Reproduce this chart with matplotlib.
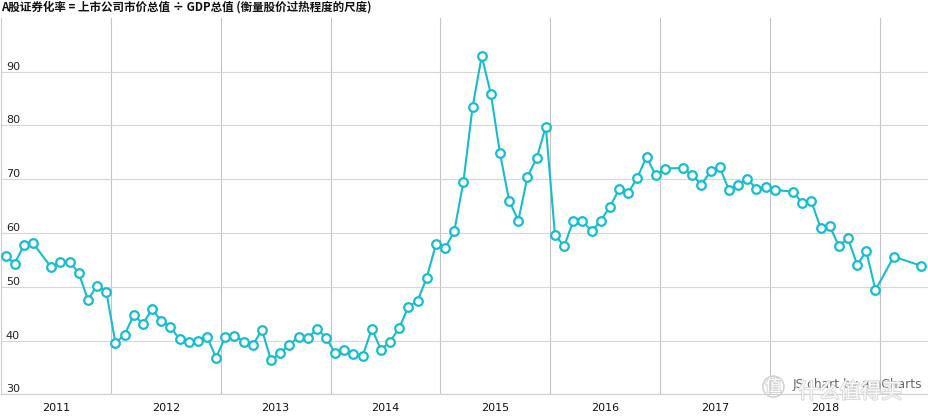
import matplotlib
matplotlib.use("Agg")
import matplotlib.pyplot as plt
import matplotlib.patheffects as pe
from matplotlib.ticker import FixedLocator, NullFormatter

# monthly values (some months are missing in the source)
months = [
    "2011-01", "2011-02", "2011-03", "2011-04", "2011-06", "2011-07", "2011-08", "2011-09", "2011-10", "2011-11", "2011-12",
    "2012-01", "2012-02", "2012-03", "2012-04", "2012-05", "2012-06", "2012-07", "2012-08", "2012-09", "2012-10", "2012-11", "2012-12",
    "2013-01", "2013-02", "2013-03", "2013-04", "2013-05", "2013-06", "2013-07", "2013-08", "2013-09", "2013-10", "2013-11", "2013-12",
    "2014-01", "2014-02", "2014-03", "2014-04", "2014-05", "2014-06", "2014-07", "2014-08", "2014-09", "2014-10", "2014-11", "2014-12",
    "2015-01", "2015-02", "2015-03", "2015-04", "2015-05", "2015-06", "2015-07", "2015-08", "2015-09", "2015-10", "2015-11", "2015-12",
    "2016-01", "2016-02", "2016-03", "2016-04", "2016-05", "2016-06", "2016-07", "2016-08", "2016-09", "2016-10", "2016-11", "2016-12",
    "2017-01", "2017-03", "2017-04", "2017-05", "2017-06", "2017-07", "2017-08", "2017-09", "2017-10", "2017-11", "2017-12",
    "2018-01", "2018-03", "2018-04", "2018-05", "2018-06", "2018-07", "2018-08", "2018-09", "2018-10", "2018-11", "2018-12",
    "2019-02", "2019-05",
]
values = [
    55.8, 54.3, 57.7, 58.1, 53.6, 54.7, 54.7, 52.5, 47.6, 50.2, 49.1,
    39.6, 41.0, 44.8, 43.1, 45.8, 43.7, 42.6, 40.2, 39.8, 40.0, 40.7, 36.8,
    40.7, 40.9, 39.8, 39.1, 42.0, 36.3, 37.7, 39.2, 40.7, 40.4, 42.2, 40.5,
    37.7, 38.2, 37.5, 37.1, 42.2, 38.3, 39.8, 42.4, 46.3, 47.4, 51.7, 57.9,
    57.2, 60.3, 69.5, 83.4, 92.9, 85.9, 74.8, 66.0, 62.3, 70.5, 73.9, 79.8,
    59.7, 57.5, 62.3, 62.3, 60.3, 62.3, 64.9, 68.1, 67.5, 70.3, 74.2, 70.7,
    72.0, 72.1, 70.7, 69.0, 71.5, 72.2, 68.0, 69.0, 70.1, 68.2, 68.5,
    68.0, 67.7, 65.6, 65.9, 61.0, 61.3, 57.6, 59.0, 54.1, 56.6, 49.4,
    55.6, 53.9,
]
years = list(range(2011, 2019))
y_ticks = [30, 40, 50, 60, 70, 80, 90]
title = "A股证券化率 = 上市公司市价总值 ÷ GDP总值 (衡量股价过热程度的尺度)"

# points sit in the middle of their month
x = [int(m[:4]) + (int(m[5:]) - 0.5) / 12 for m in months]

plt.rcParams['font.family'] = ['DejaVu Sans', 'Noto Sans CJK SC']
fig = plt.figure(figsize=(9.29, 4.18), dpi=100)
ax = fig.add_axes([0.001, 0.0567, 0.999, 0.9003])

line_color = "#19bccd"
ax.plot(x, values, color=line_color, lw=1.5, marker="o", ms=6.2,
        mfc="white", mec=line_color, mew=1.6, zorder=3)

ax.set_xlim(2011, 2011 + 929 / 110)
ax.set_ylim(30, 100)

# vertical grid at year boundaries, labels in the middle of each year
ax.xaxis.set_major_locator(FixedLocator(list(range(2011, 2020))))
ax.xaxis.set_major_formatter(NullFormatter())
ax.xaxis.set_minor_locator(FixedLocator([y + 0.5 for y in years]))
ax.set_xticklabels([str(y) for y in years], minor=True)
ax.tick_params(axis="x", which="both", length=0, pad=6, labelsize=8, labelcolor="#111111")
ax.grid(axis="x", which="major", color="#c4c4c4", lw=0.8)

ax.set_yticks(y_ticks)
ax.tick_params(axis="y", length=0, pad=-3.5, labelsize=8, labelcolor="#222222")
for lab in ax.get_yticklabels():
    lab.set_horizontalalignment("left")
    lab.set_verticalalignment("bottom")
ax.grid(axis="y", color="#d6d6d6", lw=0.8)
ax.set_axisbelow(True)

for side in ["top", "right"]:
    ax.spines[side].set_visible(False)
ax.spines["left"].set_color("#cfcfcf")
ax.spines["bottom"].set_color("#cfcfcf")

fig.text(0.001, 0.982, title, ha="left", va="center", fontsize=8.3, fontweight="bold",
         family=['Noto Sans CJK SC', 'DejaVu Sans'], color="#111111")
ax.text(0.993, 0.025, "JS chart by amCharts", transform=ax.transAxes, ha="right", va="center",
        fontsize=8.8, color="#666666", zorder=5)

# site watermark overlay (sits over the amCharts credit, as in the source image)
halo = [pe.withStroke(linewidth=1.3, foreground="#d2d2d2")]
fig.text(0.8325, 0.075, "值", ha="center", va="center", fontsize=12, color="white",
         family=['Noto Sans CJK SC'], zorder=6, path_effects=halo,
         bbox=dict(boxstyle="circle,pad=0.12", fc="none", ec="#d2d2d2", lw=1.2))
fig.text(0.859, 0.062, "什么值得买", ha="left", va="center", fontsize=15, color="white",
         family=['Noto Sans CJK SC'], zorder=6, alpha=0.85, path_effects=halo)

fig.savefig("out.png", dpi=100)
